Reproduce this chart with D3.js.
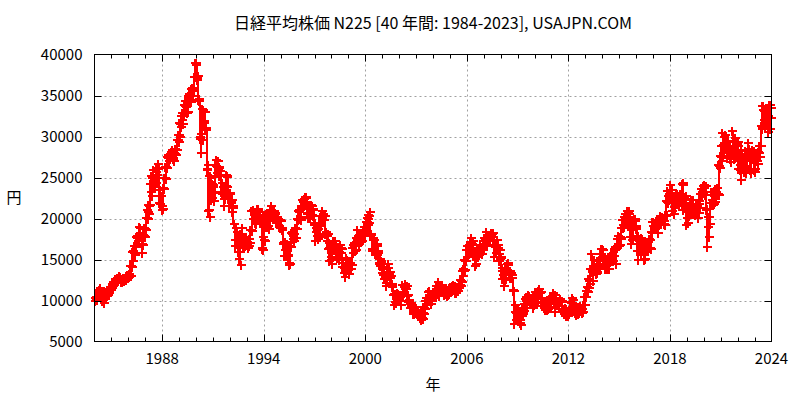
<!DOCTYPE html>
<html><head><meta charset="utf-8">
<script src="https://cdn.jsdelivr.net/npm/d3@7"></script>
<style>
body{margin:0;background:#fff}
text{font-family:"Noto Sans CJK JP","Noto Sans",sans-serif;fill:#000}
</style></head><body>
<svg id="chart" width="800" height="400"></svg>
<script>
const titleText = "日経平均株価 N225 [40 年間: 1984-2023], USAJPN.COM";
const xLabel = "年";
const yLabel = "円";
const startYear = 1984;
const xDomain = [1984, 2024];
const yDomain = [5000, 40000];
const xTickYears = [1988, 1994, 2000, 2006, 2012, 2018, 2024];
const yTickValues = [5000, 10000, 15000, 20000, 25000, 30000, 35000, 40000];

// monthly closing values (Jan..Dec per row), 1984-2023
const closes = [
10196,10410,10830,11210,10760,10080,10230,10800,10760,10990,11330,11540,
11990,12210,12580,12430,12760,12880,12320,12560,12700,12720,12860,13110,
13025,14160,15860,15825,16590,17650,17600,18820,17850,16900,17850,18700,
20020,20770,21570,23270,25000,24180,24490,25720,25990,22760,22690,21560,
23620,24900,26260,27430,27420,27770,28000,27370,27920,28410,29580,30160,
31580,31990,32840,33710,34270,32950,34950,34430,35640,35550,37270,38916,
37190,34590,29980,29580,33130,31940,31040,25980,20980,25190,22460,23850,
23290,26410,26290,26110,25790,23290,23900,22340,23920,25220,22690,22980,
22020,21340,19350,17390,18350,15950,15910,18060,17400,16770,17680,16920,
17020,17050,18590,20920,20550,19590,20380,21030,20110,19700,16410,17420,
20230,19110,19110,19730,20970,20640,20450,20630,19560,19990,19080,19720,
18650,17050,16140,16810,15440,14520,16680,18120,17910,17650,18740,19870,
20810,20130,21410,22040,21960,22530,20690,20170,21560,20470,21020,19360,
18330,18560,18000,19150,20070,20600,20330,18230,17890,16460,16630,15260,
16630,16830,16530,15640,15670,15830,16380,14110,13410,13560,14880,13840,
14500,14370,15840,16700,16110,17530,17860,17440,17600,17940,18560,18930,
19540,19960,20340,17970,16330,17410,15730,16860,15750,14540,14650,13790,
13840,12880,12100,13930,13260,12970,11860,10710,9770,10370,10700,10540,
9990,10590,11020,11490,11760,10620,9880,9620,9380,8640,8810,8580,
8340,8360,7970,7830,8420,9080,9560,10340,10220,10560,10100,10680,
10780,11040,11720,11760,11240,11860,11330,11080,10820,10770,10900,11490,
11390,11740,11670,11010,11280,11580,11900,12410,13570,13610,14870,16110,
16650,16210,17060,16910,15470,15510,15460,16140,16130,16400,16270,17230,
17380,17600,17290,17400,17880,18140,17250,16570,16790,16740,15680,15310,
13590,13600,12530,13850,14340,13480,13380,13070,11260,8580,8510,8860,
7990,7570,8110,8830,9520,9960,10360,10490,10130,10030,9350,10550,
10200,10130,11090,11060,9770,9380,9540,8820,9370,9200,9940,10230,
10240,10620,9760,9850,9690,9820,9830,8960,8700,8990,8430,8460,
8800,9720,10080,9520,8540,9010,8700,8840,8870,8930,9450,10400,
11140,11560,12400,13860,13770,13680,13670,13390,14460,14330,15660,16290,
14910,14840,14830,14300,14630,15160,15620,15420,16170,16410,17460,17450,
17670,18800,19210,19520,20560,20240,20590,18890,17390,19080,19750,19030,
17520,16030,16760,16670,17230,15580,16570,16890,16450,17430,18310,19110,
19040,19120,18910,19200,19650,20030,19930,19650,20360,22010,22720,22760,
23100,22070,21450,22470,22200,22300,22550,22870,24120,21920,22350,20010,
20770,21390,21210,22260,20600,21280,21520,20700,21760,22930,23290,23660,
23210,21140,18920,20190,21880,22290,21710,23140,23190,22980,26430,27440,
27660,28970,29180,28810,28860,28790,27280,28090,29450,28890,27820,28790,
27000,26530,27820,26850,27280,26390,27800,28090,25940,27590,27970,26090,
27330,27450,28040,28860,30890,33190,33170,32620,31860,30860,33490,33460
];

// monthly highs
const highs = [
10250,10480,11000,11300,11577,10700,10300,10900,10950,11100,11400,11600,
12000,12300,12600,12620,12800,12950,12880,12600,12750,12800,12950,13130,
13250,14200,15900,15990,16700,17700,17900,18936,18900,17900,17950,18820,
20100,21000,21700,24200,25200,25930,24700,26030,26100,26646,23500,22800,
23700,24980,26300,27500,27800,27900,28100,28300,28000,28500,29600,30200,
31600,32500,32900,33800,34300,34100,35000,35200,35800,35900,37300,38957,
38700,37400,34300,30300,33300,33200,33000,30800,26500,25200,25000,24200,
24100,26500,27150,27000,26300,25800,24300,23800,24000,25300,25100,23000,
23100,22200,21500,19300,18900,18300,16400,18100,18900,17500,17700,17800,
17100,17500,18600,20950,21000,20700,20600,21148,21100,20800,19800,17700,
20300,20600,20500,19800,21000,21552,20900,20900,20600,20200,20000,19800,
19700,18800,17100,17100,16900,15500,16700,18200,18400,18100,18800,19900,
20900,21000,21500,22200,22400,22666,22600,21300,21700,21600,21500,21200,
19400,18800,18700,19300,20300,20900,20500,20300,18400,18100,17000,16700,
16900,17200,17300,16600,15900,15900,16800,16300,14600,14000,15200,14900,
14500,14600,16400,16800,17000,17600,18600,18000,17900,18000,18600,18950,
19600,20100,20400,20833,18100,17600,17400,16900,16600,16000,15100,14800,
14100,13900,13100,14000,14500,13500,13000,12000,10800,10800,10900,10800,
10700,10600,11900,11600,11979,11800,10700,10100,9700,9400,8850,9200,
8800,8700,8400,8100,8500,9200,10000,10350,11000,11200,10600,10700,
11000,11100,11800,12200,11300,11900,11900,11200,11400,11100,11200,11500,
11600,11800,11950,11800,11300,11600,11950,12500,13600,13800,14900,16200,
16700,16800,17100,17563,17300,15600,15600,16300,16400,16800,16400,17300,
17600,18300,17500,17600,17900,18200,18261,17300,16800,17400,16400,16200,
15200,14000,13600,13900,14400,14600,13600,13400,12800,11200,9500,8900,
9100,8100,8600,9000,9600,10200,10400,10650,10550,10300,10000,10650,
10980,10400,11100,11400,11000,10300,9700,9700,9700,9600,10200,10400,
10600,10900,10700,10000,10000,9900,10140,10000,9000,9100,8900,8700,
8900,9800,10255,10100,9500,9100,9100,9200,9300,9100,9500,10450,
11200,11600,12650,13900,15627,13800,14900,14100,14800,14800,15700,16320,
16200,15000,15200,15100,14700,15400,15650,15500,16300,16500,17500,17900,
17800,18800,19800,20200,20600,20868,20700,20900,18800,19100,20000,20000,
18800,17900,17300,17600,17300,17000,16900,16900,17100,17500,18400,19600,
19600,19500,19700,19300,19800,20300,20200,20100,20400,22100,23400,23000,
24124,23500,22500,22500,23000,23000,22800,23000,24200,24270,22600,22700,
20800,21500,21800,22300,22300,21300,21800,21500,22100,22980,23600,24000,
24100,24000,21100,20200,21900,23200,22900,23300,23600,23700,26500,27600,
28900,30467,30000,30200,29500,29400,28900,28200,30670,29300,29800,29100,
29300,27900,28300,27300,27400,28200,27900,29200,28500,27600,28400,28200,
27400,27700,28100,28900,31300,33700,33753,32900,33500,32500,33800,33800
];

// monthly lows
const lows = [
9890,10050,10380,10800,10700,10000,9703,10200,10600,10700,10950,11250,
11500,11900,12150,12300,12350,12600,12300,12200,12350,12450,12550,12750,
12880,12950,14100,14800,15600,16500,17300,17500,17700,15820,16800,17800,
18600,19900,20600,21600,22800,24000,23800,24300,25300,21910,21800,21040,
21200,23600,24800,26200,27000,27300,27600,27200,27000,27800,28300,29300,
29900,31200,31500,32800,33600,32900,33000,34200,34200,34900,35600,37200,
36900,34400,29700,28002,29600,31700,30800,25900,20900,20221,22200,22500,
22100,23100,25600,25900,25200,23200,23000,21500,22400,23900,22600,21500,
21900,20800,19300,16600,17400,15900,15100,14309,17200,16600,16600,16800,
16400,16700,17000,18500,20000,19500,19300,20200,20000,19500,16300,16100,
17300,19000,19000,18700,19700,20500,20200,20200,19500,19500,19000,18900,
18600,16900,15400,15400,15400,14300,14485,16500,17500,17300,17600,18700,
19800,20000,19800,21300,21500,21700,20600,20100,20100,20400,20300,19200,
17300,17900,17500,17800,19100,19900,19800,18100,17300,16300,14800,14900,
14500,16200,16200,15200,15200,14900,15800,14100,13400,12879,13600,13700,
13200,13800,14300,15800,16000,16200,17400,16900,17100,17200,17900,18000,
18400,19200,19500,17900,16000,16300,15700,15600,15600,14400,14200,13400,
13100,12600,11800,12500,13200,12700,11700,10700,9504,9700,10100,10000,
9900,9420,10500,10900,11400,10500,9800,9100,9100,8400,8300,8500,
8300,8300,7860,7607,7800,8400,9000,9500,10200,10300,9600,9900,
10500,10400,10800,11400,10500,11000,11000,10700,10800,10600,10700,10800,
11200,11300,11400,10900,10900,11200,11500,11800,12300,13000,13700,14800,
15300,15700,15900,16800,15400,14218,14400,15300,15600,15900,15700,16200,
16900,17300,16600,17200,17300,17700,17200,15270,15800,16400,14800,15100,
12570,13100,11800,12600,13600,13400,12700,12700,11200,7162,7600,7900,
7900,7300,7054,8300,8700,9400,9050,10200,10000,9600,9100,9400,
10200,9800,10400,10900,9700,9300,9100,8800,8800,9000,9100,9900,
10200,10300,8605,9400,9400,9350,9800,8600,8400,8400,8150,8150,
8350,8800,9700,9400,8500,8290,8300,8500,8700,8500,8600,9400,
10400,11000,11500,12000,13500,12400,13600,13200,13500,13800,14100,15300,
14900,13900,14200,13900,13900,14700,15100,14800,15400,14500,16400,16700,
16800,17500,18800,19000,19300,19900,19100,17800,16900,17600,19100,18700,
16000,14952,16000,15500,16100,14900,15100,16100,16300,16400,16250,18200,
18800,18800,18900,18200,19300,19700,19900,19300,19200,20400,21900,22300,
22800,20900,20600,21300,22000,21900,21500,22000,22300,21000,21300,19155,
19500,20300,20900,21500,20500,20400,21000,20100,20700,21300,22800,23100,
22900,21000,16552,17800,19300,21900,21700,22000,23000,22900,22900,26100,
27000,27600,28300,28500,27400,28000,27200,26950,28000,27300,27800,27600,
26000,25900,24717,26300,25700,25500,26100,27500,25900,25600,27200,25900,
25700,27000,26600,27500,28900,31100,32000,31300,31500,30500,30900,32300
];

const plot = {left: 94.5, right: 771.5, top: 54.5, bottom: 341.5};

const svg = d3.select("#chart");
const x = d3.scaleLinear().domain(xDomain).range([plot.left, plot.right]);
const y = d3.scaleLinear().domain(yDomain).range([plot.bottom, plot.top]);

const monthPos = (i, frac) => startYear + Math.floor(i / 12) + ((i % 12) + frac) / 12;

// grid
const gridCol = "#a0a0a0";
const g = svg.append("g");
g.selectAll("line.gx").data(xTickYears.filter(v => v > xDomain[0] && v < xDomain[1]))
  .join("line").attr("x1", d => Math.round(x(d)) + 0.5).attr("x2", d => Math.round(x(d)) + 0.5)
  .attr("y1", plot.top).attr("y2", plot.bottom)
  .attr("stroke", gridCol).attr("stroke-width", 1).attr("stroke-dasharray", "2,3");
g.selectAll("line.gy").data(yTickValues.filter(v => v > yDomain[0] && v < yDomain[1]))
  .join("line").attr("y1", d => Math.round(y(d)) + 0.5).attr("y2", d => Math.round(y(d)) + 0.5)
  .attr("x1", plot.left).attr("x2", plot.right)
  .attr("stroke", gridCol).attr("stroke-width", 1).attr("stroke-dasharray", "2,3");

// data
const red = "#ff0000";
const dg = svg.append("g").attr("shape-rendering", "crispEdges");
const months = d3.range(closes.length);
dg.selectAll("line.rng").data(months).join("line")
  .attr("x1", i => Math.round(x(monthPos(i, 0.5)))).attr("x2", i => Math.round(x(monthPos(i, 0.5))))
  .attr("y1", i => y(highs[i])).attr("y2", i => y(lows[i]))
  .attr("stroke", red).attr("stroke-width", 2);
const plus = "M-4.5,0H4.5M0,-4.5V4.5";
const pts = [];
months.forEach(i => {
  pts.push([monthPos(i, 0.25), highs[i]]);
  pts.push([monthPos(i, 0.6), lows[i]]);
  pts.push([monthPos(i, 0.95), closes[i]]);
});
dg.selectAll("path.pt").data(pts).join("path")
  .attr("transform", d => `translate(${Math.round(x(d[0]))},${Math.round(y(d[1]))})`)
  .attr("d", plus).attr("stroke", red).attr("stroke-width", 2).attr("fill", "none");

// border
svg.append("rect").attr("x", plot.left).attr("y", plot.top)
  .attr("width", plot.right - plot.left).attr("height", plot.bottom - plot.top)
  .attr("fill", "none").attr("stroke", "#000").attr("stroke-width", 1);

// ticks
const tg = svg.append("g").attr("stroke", "#000").attr("stroke-width", 1);
d3.range(xDomain[0] + 1, xDomain[1]).forEach(v => {
  const xx = Math.round(x(v)) + 0.5;
  const len = xTickYears.includes(v) ? 7 : 4;
  tg.append("line").attr("x1", xx).attr("x2", xx).attr("y1", plot.bottom).attr("y2", plot.bottom - len);
  tg.append("line").attr("x1", xx).attr("x2", xx).attr("y1", plot.top).attr("y2", plot.top + len);
});
yTickValues.filter(v => v > yDomain[0] && v < yDomain[1]).forEach(v => {
  const yy = Math.round(y(v)) + 0.5;
  tg.append("line").attr("x1", plot.left).attr("x2", plot.left + 7).attr("y1", yy).attr("y2", yy);
  tg.append("line").attr("x1", plot.right).attr("x2", plot.right - 7).attr("y1", yy).attr("y2", yy);
});

// tick labels
const fs = 15;
svg.append("g").selectAll("text").data(xTickYears).join("text")
  .attr("x", d => x(d)).attr("y", plot.bottom + 22)
  .attr("text-anchor", "middle").attr("font-size", fs).text(d => d);
svg.append("g").selectAll("text").data(yTickValues).join("text")
  .attr("x", plot.left - 12).attr("y", d => y(d) + 5)
  .attr("text-anchor", "end").attr("font-size", fs).text(d => d);

// titles
svg.append("text").attr("x", (plot.left + plot.right) / 2).attr("y", 29)
  .attr("text-anchor", "middle").attr("font-size", 16).text(titleText);
svg.append("text").attr("x", (plot.left + plot.right) / 2).attr("y", 390)
  .attr("text-anchor", "middle").attr("font-size", fs).text(xLabel);
svg.append("text").attr("x", 14).attr("y", (plot.top + plot.bottom) / 2 + 5)
  .attr("text-anchor", "middle").attr("font-size", fs).text(yLabel);
</script>
</body></html>
